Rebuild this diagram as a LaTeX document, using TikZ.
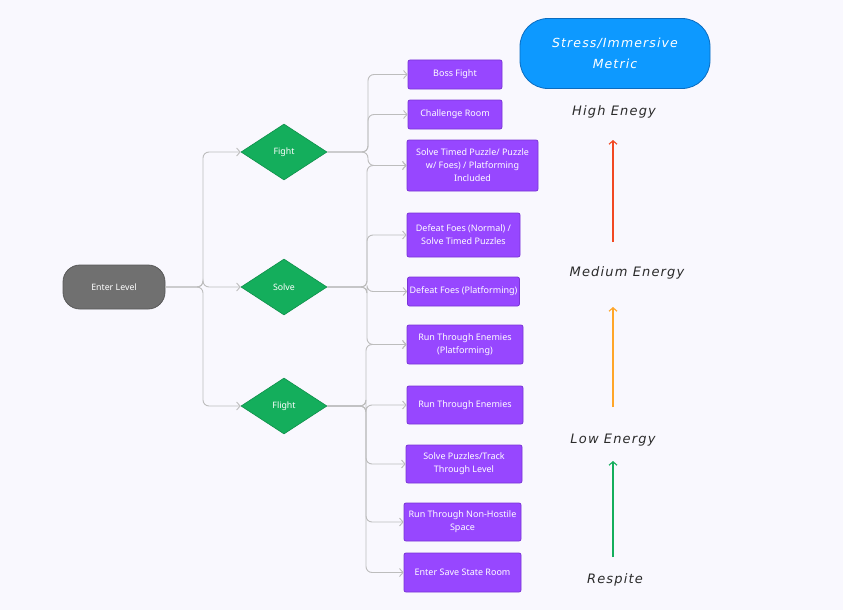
\documentclass[tikz,border=0pt]{standalone}
\usepackage{fontspec}
\setmainfont{Noto Sans}
\newfontfamily\handfont[LetterSpace=9]{DejaVu Sans}
\usetikzlibrary{shapes.geometric,arrows.meta}
\definecolor{bgc}{HTML}{F9F8FE}
\definecolor{purp}{HTML}{9747FF}
\definecolor{purpd}{HTML}{7A35D6}
\definecolor{grn}{HTML}{14AE5C}
\definecolor{grnd}{HTML}{0E8F4A}
\definecolor{gry}{HTML}{707070}
\definecolor{gryd}{HTML}{595959}
\definecolor{blu}{HTML}{0D99FF}
\definecolor{blud}{HTML}{0A6CC0}
\definecolor{edgec}{HTML}{BDBDBD}
\definecolor{redc}{HTML}{F24822}
\definecolor{orac}{HTML}{FFA629}
\definecolor{txtc}{HTML}{2B2B2B}
\tikzset{
  box/.style={draw=purpd, line width=0.8pt, fill=purp, rounded corners=2pt, text=white, align=center, inner sep=2pt, font=\fontsize{9}{13}\selectfont},
  dia/.style={shape=diamond, draw=grnd, line width=0.6pt, fill=grn, minimum width=86pt, minimum height=56pt, aspect=1.54, inner sep=0pt, text=white, font=\fontsize{8.8}{10}\selectfont},
  startbox/.style={draw=gryd, line width=0.8pt, fill=gry, rounded corners=17pt, minimum width=102pt, minimum height=44pt, text=white, font=\fontsize{8.8}{10}\selectfont},
  edge/.style={draw=edgec, line width=0.9pt, rounded corners=6pt, -{Straight Barb[length=3.5pt,width=8pt]}},
  hand/.style={text=txtc, font=\handfont\itshape\fontsize{13}{15}\selectfont},
  metric/.style={line width=1.1pt, -{Straight Barb[length=3.5pt,width=8pt]}},
}
\begin{document}
\begin{tikzpicture}[x=1pt,y=-1pt]
\fill[bgc] (0,0) rectangle (843,610);
\useasboundingbox (0,0) rectangle (843,610);

\node[startbox] (E) at (114,287) {Enter Level};
\node[dia] (F) at (284,152) {Fight};
\node[dia] (S) at (284,287) {Solve};
\node[dia] (L) at (284,406) {Flight};

\node[box, minimum width=94pt, minimum height=29pt] (b1) at (455,74.5) {Boss Fight};
\node[box, minimum width=94pt, minimum height=29pt] (b2) at (455,114.5) {Challenge Room};
\node[box, minimum width=131pt, minimum height=51pt] (b3) at (472.5,165.5) {Solve Timed Puzzle/ Puzzle\\w/ Foes) / Platforming\\Included};
\node[box, minimum width=113pt, minimum height=44pt] (b4) at (463.5,235) {Defeat Foes (Normal) /\\Solve Timed Puzzles};
\node[box, minimum width=111pt, minimum height=29pt] (b5) at (463.5,291.5) {Defeat Foes (Platforming)};
\node[box, minimum width=116pt, minimum height=39pt] (b6) at (465,344.5) {Run Through Enemies\\(Platforming)};
\node[box, minimum width=116pt, minimum height=38pt] (b7) at (465,405) {Run Through Enemies};
\node[box, minimum width=116pt, minimum height=38pt] (b8) at (464,464) {Solve Puzzles/Track\\Through Level};
\node[box, minimum width=117pt, minimum height=38pt] (b9) at (462.5,522) {Run Through Non-Hostile\\Space};
\node[box, minimum width=117pt, minimum height=39pt] (b10) at (462.5,572.5) {Enter Save State Room};

\coordinate (j0) at (203,287);
\coordinate (jF) at (368,152);
\coordinate (jS) at (367,287);
\coordinate (jL) at (366,406);

\foreach \t in {F,S,L} \draw[edge] (E.east) -- (j0) |- (\t.west);
\foreach \t in {b1,b2,b3} \draw[edge] (F.east) -- (jF) |- (\t.west);
\foreach \t in {b3,b4,b5,b6} \draw[edge] (S.east) -- (jS) |- (\t.west);
\foreach \t in {b6,b7,b8,b9,b10} \draw[edge] (L.east) -- (jL) |- (\t.west);

\node[draw=blud, line width=0.8pt, fill=blu, rounded corners=28pt, minimum width=190pt, minimum height=70pt, text=white, align=center, font=\handfont\itshape\fontsize{12.5}{21}\selectfont] (M) at (615,53.5) {Stress/Immersive\\Metric};

\node[hand] (hi) at (614,112) {High Enegy};
\node[hand] (me) at (627,273) {Medium Energy};
\node[hand] (lo) at (613,440) {Low Energy};
\node[hand] (re) at (615,580) {Respite};

\coordinate (r0) at (613,242); \coordinate (r1) at (613,140);
\coordinate (o0) at (613,407); \coordinate (o1) at (613,307);
\coordinate (g0) at (613,557); \coordinate (g1) at (613,461);
\draw[metric, draw=redc] (r0) -- (r1);
\draw[metric, draw=orac] (o0) -- (o1);
\draw[metric, draw=grn] (g0) -- (g1);
\end{tikzpicture}
\end{document}
